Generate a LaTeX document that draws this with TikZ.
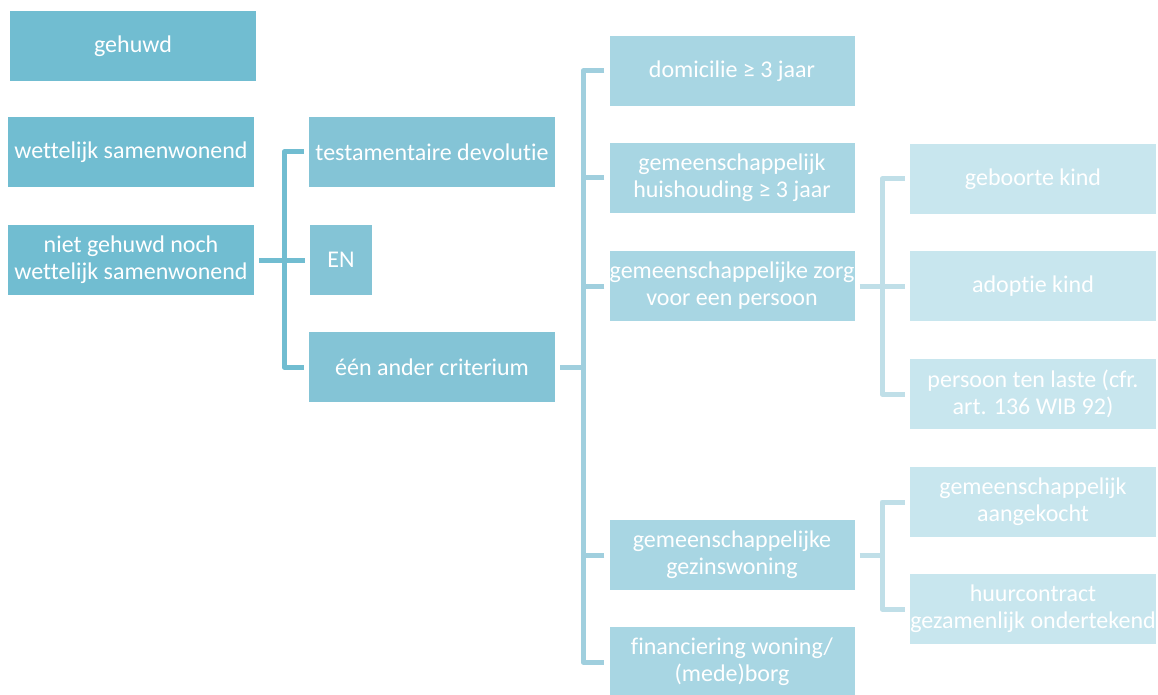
\documentclass[tikz,border=0pt]{standalone}
\usepackage{fontspec}
\setmainfont{Carlito}[Ligatures=NoCommon]
\usetikzlibrary{scopes}
\definecolor{tealA}{RGB}{113,189,209}
\definecolor{tealB}{RGB}{132,196,214}
\definecolor{tealC}{RGB}{168,214,227}
\definecolor{tealD}{RGB}{200,230,238}
\definecolor{lineB}{RGB}{160,207,222}
\definecolor{lineC}{RGB}{192,223,232}
\begin{document}
\begin{tikzpicture}[x=1pt,y=-1pt,
    box/.style={rectangle,minimum width=246pt,minimum height=70pt,inner sep=0pt,
        align=center,text=white,font=\fontsize{24}{27}\selectfont},
    boxa/.style={box,fill=tealA},
    boxb/.style={box,fill=tealB},
    boxc/.style={box,fill=tealC},
    boxd/.style={box,fill=tealD},
    link/.style={line width=5pt,line join=round},
    linka/.style={link,draw=tealA},
    linkb/.style={link,draw=lineB},
    linkc/.style={link,draw=lineC}]
        \useasboundingbox (0,0) rectangle (1158,695);
        % first column
        \node[boxa] (gehuwd) at (133,46) {gehuwd};
        \node[boxa] (wettelijk) at (131,152) {wettelijk samenwonend};
        \node[boxa] (niet) at (131,260) {niet gehuwd noch\\wettelijk samenwonend};
        % second column
        \node[boxb] (testam) at (432,152) {testamentaire devolutie};
        \node[boxb,minimum width=62pt] (en) at (341,260) {EN};
        \node[boxb] (crit) at (432,367) {één ander criterium};
        % third column
        \node[boxc,minimum width=245pt] (domic) at (732,71) {domicilie ≥ 3 jaar};
        \node[boxc,minimum width=245pt] (huish) at (732,178) {gemeenschappelijk\\huishouding ≥ 3 jaar};
        \node[boxc,minimum width=245pt] (zorg) at (732,286) {gemeenschappelijke zorg\\voor een persoon};
        \node[boxc,minimum width=245pt] (gezin) at (732,555) {gemeenschappelijke\\gezinswoning};
        \node[boxc,minimum width=245pt] (finan) at (732,662) {financiering woning/\\(mede)borg};
        % fourth column
        \node[boxd] (geboorte) at (1033,179) {geboorte kind};
        \node[boxd] (adoptie) at (1033,286) {adoptie kind};
        \node[boxd] (laste) at (1033,394) {persoon ten laste (cfr.\\art. 136 WIB 92)};
        \node[boxd] (gekocht) at (1033,502) {gemeenschappelijk\\aangekocht};
        \node[boxd] (huur) at (1033,609) {huurcontract\\gezamenlijk ondertekend};
        % connectors
        \coordinate (busa) at (284,260);
        \coordinate (busb) at (583,367);
        \coordinate (busc) at (882,286);
        \coordinate (busd) at (882,555);
        {[linka]
        \draw ([xshift=5pt]niet.east) -- ([xshift=-5pt]en.west);
        \draw ([xshift=-5pt]testam.west) -| (busa) |- ([xshift=-5pt]crit.west);
        }
        {[linkb]
        \draw ([xshift=5pt]crit.east) -- (busb);
        \draw ([xshift=-5pt]domic.west) -| (busb) |- ([xshift=-5pt]finan.west);
        \draw ([xshift=-5pt]huish.west) -- (busb |- huish.west);
        \draw ([xshift=-5pt]zorg.west) -- (busb |- zorg.west);
        \draw ([xshift=-5pt]gezin.west) -- (busb |- gezin.west);
        }
        {[linkc]
        \draw ([xshift=5pt]zorg.east) -- ([xshift=-5pt]adoptie.west);
        \draw ([xshift=-5pt]geboorte.west) -| (busc) |- ([xshift=-5pt]laste.west);
        \draw ([xshift=5pt]gezin.east) -- (busd);
        \draw ([xshift=-5pt]gekocht.west) -| (busd) |- ([xshift=-5pt]huur.west);
        }
    \end{tikzpicture}
\end{document}
